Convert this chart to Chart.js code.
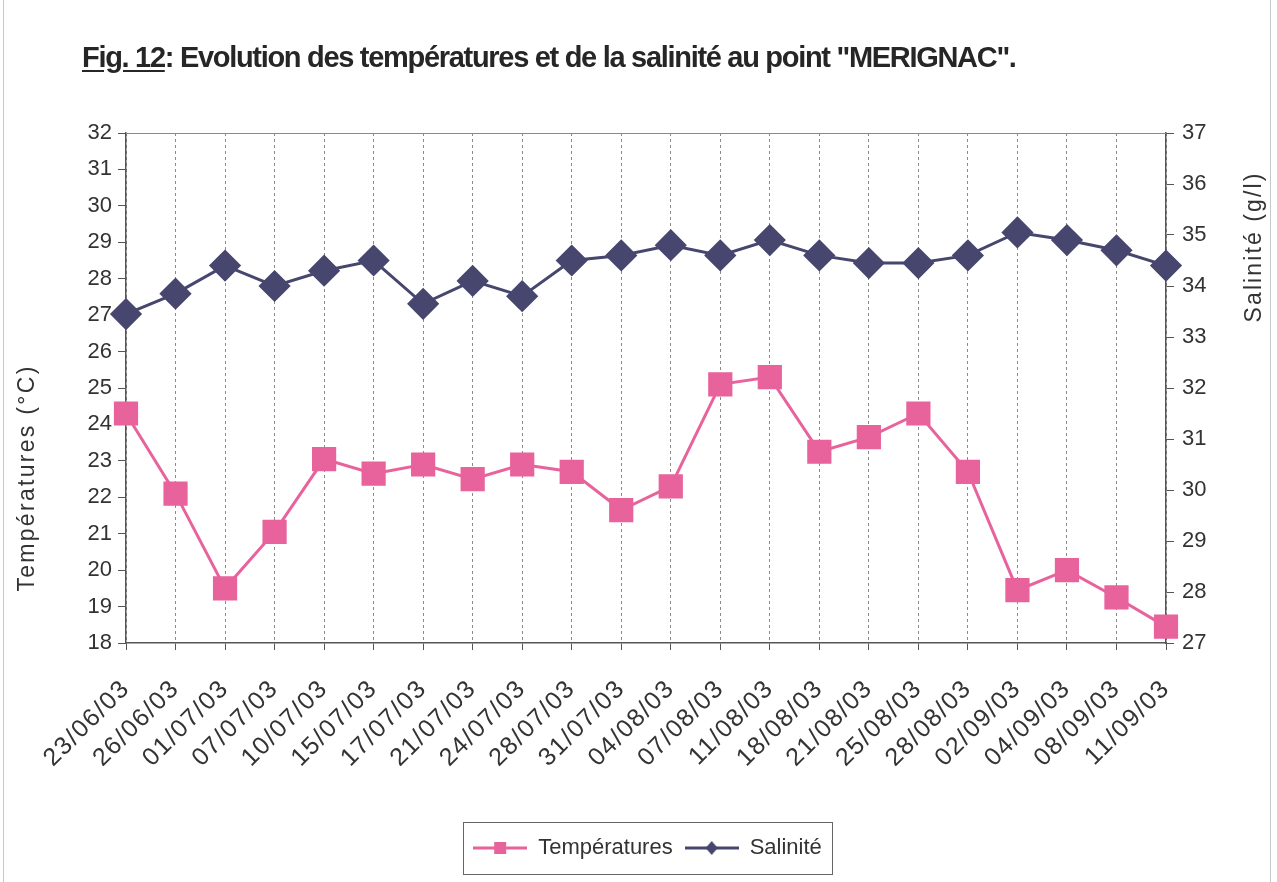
<!DOCTYPE html>
<html>
<head>
<meta charset="utf-8">
<script src="https://cdn.jsdelivr.net/npm/chart.js@4/dist/chart.umd.min.js"></script>
<style>
    html, body { margin: 0; padding: 0; background: #fff; }
    #wrap { position: relative; width: 1277px; height: 882px; overflow: hidden; }
    #frame { position: absolute; left: 3px; top: -2px; width: 1268px; height: 890px; border: 1px solid #c8c8c8; box-sizing: border-box; }
    #title {
        position: absolute; left: 82px; top: 41px;
        font-family: "Liberation Sans", Arial, sans-serif; font-weight: bold;
        font-size: 29px; letter-spacing: -1.3px; color: #262626; white-space: nowrap;
    }
    #title u { text-underline-offset: 3px; }
    canvas { position: absolute; left: 0; top: 0; }
</style>
</head>
<body>
<div id="wrap">
    <div id="frame"></div>
    <canvas id="graph-merignac" width="1277" height="882"></canvas>
    <div id="title"><u>Fig. 12</u>: Evolution des températures et de la salinité au point "MERIGNAC".</div>
</div>
<script>
const dates = ['23/06/03', '26/06/03', '01/07/03', '07/07/03', '10/07/03', '15/07/03', '17/07/03',
    '21/07/03', '24/07/03', '28/07/03', '31/07/03', '04/08/03', '07/08/03', '11/08/03', '18/08/03',
    '21/08/03', '25/08/03', '28/08/03', '02/09/03', '04/09/03', '08/09/03', '11/09/03'];
const temperatures = [24.3, 22.1, 19.5, 21.05, 23.05, 22.65, 22.9, 22.5, 22.9, 22.7, 21.65, 22.3,
    25.1, 25.3, 23.25, 23.65, 24.3, 22.7, 19.45, 20.0, 19.25, 18.45];
const salinity = [33.45, 33.85, 34.4, 34.0, 34.3, 34.5, 33.65, 34.1, 33.8, 34.5, 34.6, 34.8,
    34.6, 34.9, 34.6, 34.45, 34.45, 34.6, 35.05, 34.9, 34.7, 34.4];
const tempTicks = {min: 18, max: 32, step: 1};
const salTicks = {min: 27, max: 37, step: 1};

const PINK = '#e8629c';
const NAVY = '#46466e';
const AXIS = '#555555';
const TEXT = '#333333';
const FONT = '"Liberation Sans", Arial, sans-serif';

function legendIcon(color, style) {
    const c = document.createElement('canvas');
    c.width = 54;
    c.height = 18;
    const ctx = c.getContext('2d');
    ctx.strokeStyle = color;
    ctx.lineWidth = 3;
    ctx.beginPath();
    ctx.moveTo(0, 9);
    ctx.lineTo(54, 9);
    ctx.stroke();
    ctx.fillStyle = color;
    if (style === 'rect') {
        ctx.fillRect(21, 3, 12, 12);
    } else {
        ctx.beginPath();
        ctx.moveTo(27, 2);
        ctx.lineTo(33, 9);
        ctx.lineTo(27, 16);
        ctx.lineTo(21, 9);
        ctx.closePath();
        ctx.fill();
    }
    return c;
}

// the date labels of the scan are wider than plain Arial
const wideDates = {
    id: 'wideDates',
    afterDatasetsDraw(chart) {
        chart.ctx.letterSpacing = '1.6px';
    },
    afterDraw(chart) {
        chart.ctx.letterSpacing = '0px';
    }
};

const frameLines = {
    id: 'frameLines',
    afterDraw(chart) {
        const ctx = chart.ctx;
        const a = chart.chartArea;
        ctx.save();
        ctx.letterSpacing = '0px';
        // top border of plot
        ctx.strokeStyle = '#8a8a8a';
        ctx.lineWidth = 1;
        ctx.beginPath();
        ctx.moveTo(a.left, a.top + 0.5);
        ctx.lineTo(a.right, a.top + 0.5);
        ctx.stroke();

        // axis titles
        ctx.fillStyle = TEXT;
        ctx.font = '23px ' + FONT;
        ctx.textAlign = 'center';
        ctx.textBaseline = 'middle';
        ctx.letterSpacing = '2.3px';
        ctx.translate(28, 478);
        ctx.rotate(-Math.PI / 2);
        ctx.fillText('Températures (°C)', 0, 0);
        ctx.setTransform(1, 0, 0, 1, 0, 0);
        ctx.letterSpacing = '2.1px';
        ctx.translate(1255, 247);
        ctx.rotate(-Math.PI / 2);
        ctx.fillText('Salinité (g/l)', 0, 0);
        ctx.setTransform(1, 0, 0, 1, 0, 0);
        ctx.letterSpacing = '0px';

        // legend frame
        const boxes = chart.legend.legendHitBoxes;
        if (boxes && boxes.length) {
            let left = Infinity, right = -Infinity, top = Infinity, bottom = -Infinity;
            boxes.forEach(b => {
                left = Math.min(left, b.left);
                right = Math.max(right, b.left + b.width);
                top = Math.min(top, b.top);
                bottom = Math.max(bottom, b.top + b.height);
            });
            ctx.strokeStyle = '#666';
            ctx.lineWidth = 1;
            ctx.strokeRect(Math.round(left - 10) + 0.5, Math.round(top - 15) + 0.5,
                Math.round(right - left + 20), Math.round(bottom - top + 30));
        }
        ctx.restore();
    }
};

const config = {
    type: 'line',
    data: {
        labels: dates,
        datasets: [{
            label: 'Températures',
            data: temperatures,
            yAxisID: 'y',
            borderColor: PINK,
            backgroundColor: PINK,
            borderWidth: 3,
            pointStyle: 'rect',
            pointRadius: 15,
            tension: 0
        }, {
            label: 'Salinité',
            data: salinity,
            yAxisID: 'y1',
            borderColor: NAVY,
            backgroundColor: NAVY,
            borderWidth: 3,
            pointStyle: 'rectRot',
            pointRadius: 14,
            tension: 0
        }]
    },
    options: {
        responsive: false,
        animation: false,
        events: [],
        layout: {padding: {top: 133, right: 0, left: 18, bottom: 13}},
        plugins: {
            tooltip: {enabled: false},
            legend: {
                position: 'bottom',
                labels: {
                    usePointStyle: true,
                    pointStyleWidth: 54,
                    boxHeight: 18,
                    padding: 12,
                    color: TEXT,
                    font: {family: FONT, size: 22},
                    generateLabels: () => [
                        {text: 'Températures', pointStyle: legendIcon(PINK, 'rect'), fontColor: TEXT, lineWidth: 0, strokeStyle: 'transparent', fillStyle: 'transparent'},
                        {text: 'Salinité', pointStyle: legendIcon(NAVY, 'diamond'), fontColor: TEXT, lineWidth: 0, strokeStyle: 'transparent', fillStyle: 'transparent'}
                    ]
                }
            }
        },
        scales: {
            x: {
                offset: false,
                afterFit: scale => { scale.height = 182; },
                border: {display: true, color: AXIS, width: 1.5, dash: [3, 3]},
                grid: {
                    display: true,
                    drawOnChartArea: true,
                    color: '#8a8a8a',
                    lineWidth: 1,
                    tickLength: 7,
                    tickColor: AXIS,
                    tickBorderDash: []
                },
                ticks: {
                    z: 1,
                    autoSkip: false,
                    minRotation: 45,
                    maxRotation: 45,
                    padding: 24,
                    color: TEXT,
                    font: {family: FONT, size: 25}
                }
            },
            y: {
                position: 'left',
                min: tempTicks.min,
                max: tempTicks.max,
                afterFit: scale => { scale.width = 108; },
                border: {display: true, color: AXIS, width: 1.5},
                grid: {display: true, drawOnChartArea: false, tickLength: 8, tickColor: AXIS},
                ticks: {stepSize: tempTicks.step, padding: 6, color: TEXT, font: {family: FONT, size: 22}}
            },
            y1: {
                position: 'right',
                min: salTicks.min,
                max: salTicks.max,
                afterFit: scale => { scale.width = 111; },
                border: {display: true, color: AXIS, width: 1.5},
                grid: {display: true, drawOnChartArea: false, tickLength: 8, tickColor: AXIS},
                ticks: {stepSize: salTicks.step, padding: 8, color: TEXT, font: {family: FONT, size: 22}}
            }
        }
    },
    plugins: [wideDates, frameLines]
};

const chartMerignac = new Chart(document.getElementById('graph-merignac'), config);
</script>
</body>
</html>
